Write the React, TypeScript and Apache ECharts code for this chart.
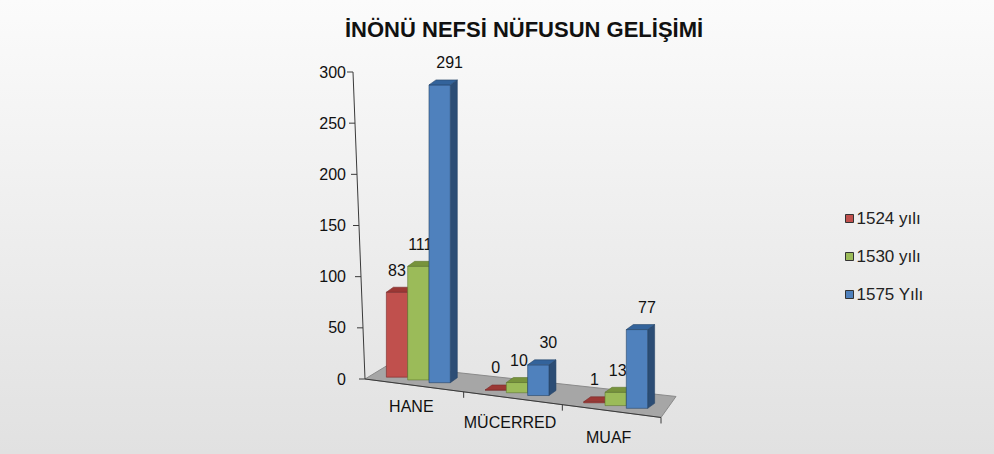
import React, { useEffect, useRef } from 'react';
import * as echarts from 'echarts';

const categories = ['HANE', 'MÜCERRED', 'MUAF'];
const seriesNames = ['1524 yılı', '1530 yılı', '1575 Yılı'];
const values1524 = [83, 0, 1];
const values1530 = [111, 10, 13];
const values1575 = [291, 30, 77];
const yMin = 0;
const yMax = 300;
const yInterval = 50;
const yTicks = [0, 50, 100, 150, 200, 250, 300];

const FONT = '"Liberation Sans", Arial, sans-serif';
const K = 0.13; // floor tilt

const palettes = [
  { front: '#C0504D', top: '#9B3835', side: '#85302E', edge: '#7A2C2A', lx: -2 },
  { front: '#9BBB59', top: '#77933C', side: '#667F33', edge: '#5F7830', lx: 0 },
  { front: '#4F81BD', top: '#33639B', side: '#2C4D75', edge: '#274468', lx: 8 },
];

const makeBarRender = (s: number) => (params: any, api: any) => {
  const i = api.value(0);
  const v = api.value(1);
  const cs = params.coordSys;
  const p0 = api.coord([i, 0]);
  const p1 = api.coord([i, v]);
  const cx = p0[0];
  const y0 = p0[1];
  const h = y0 - p1[1];
  const band = api.size([1, 0])[0];
  const barW = band * 0.216;
  const left = cx - 1.5 * barW + 4 + s * barW;
  const right = left + barW;
  const mid = left + barW / 2;
  const base = y0 + (mid - cs.x) * K - 6;
  const top = base - h;
  const dx = 7;
  const dy = 5;
  const c = palettes[s];
  const children: any[] = [
    {
      type: 'polygon',
      shape: { points: [[right, top], [right + dx, top - dy], [right + dx, base - dy], [right, base]] },
      style: { fill: c.side, stroke: c.edge, lineWidth: 0.6 },
    },
    {
      type: 'rect',
      shape: { x: left, y: top, width: barW, height: h },
      style: { fill: c.front, stroke: c.edge, lineWidth: 0.6 },
    },
    {
      type: 'polygon',
      shape: { points: [[left, top], [right, top], [right + dx, top - dy], [left + dx, top - dy]] },
      style: { fill: c.top, stroke: c.edge, lineWidth: 0.6 },
    },
    {
      type: 'text',
      style: {
        text: String(v),
        x: mid + 2 + c.lx,
        y: top - 22,
        align: 'center',
        verticalAlign: 'middle',
        fontSize: 16,
        fontFamily: FONT,
        fill: '#111',
      },
      z2: 10,
    },
  ];
  return { type: 'group', children };
};

const renderFloor = (params: any, api: any) => {
  const cs = params.coordSys;
  const x0 = cs.x;
  const x1 = cs.x + cs.width;
  const y0 = api.coord([0, 0])[1];
  const yR = y0 + cs.width * K;
  const band = api.size([1, 0])[0];
  const children: any[] = [];
  children.push({
    type: 'polygon',
    shape: { points: [[x0, y0], [x1, yR], [x1 + 15, yR - 21], [x0 + 23, y0 - 14]] },
    style: { fill: '#A6A6A6', stroke: '#8A8A8A', lineWidth: 1 },
  });
  children.push({
    type: 'line',
    shape: { x1: x0, y1: y0, x2: x1, y2: yR },
    style: { stroke: '#3A3A3A', lineWidth: 1 },
  });
  for (let j = 1; j <= categories.length; j++) {
    const tx = x0 + band * j;
    const ty = y0 + band * j * K;
    children.push({
      type: 'line',
      shape: { x1: tx, y1: ty, x2: tx, y2: ty + 6 },
      style: { stroke: '#3A3A3A', lineWidth: 1 },
    });
  }
  // tilted value axis line and ticks
  const yTopPx = api.coord([0, yMax])[1];
  const tilt = 12;
  children.push({
    type: 'line',
    shape: { x1: x0 - tilt, y1: yTopPx, x2: x0, y2: y0 },
    style: { stroke: '#3A3A3A', lineWidth: 1 },
  });
  yTicks.forEach((t) => {
    const ty = api.coord([0, t])[1];
    const tx = x0 - tilt * (t / yMax);
    children.push({
      type: 'line',
      shape: { x1: tx - 6, y1: ty, x2: tx, y2: ty },
      style: { stroke: '#3A3A3A', lineWidth: 1 },
    });
  });
  categories.forEach((name, j) => {
    const lx = x0 + band * (j + 0.5) - 3;
    const ly = y0 + (lx - x0) * 0.16 + 20;
    children.push({
      type: 'text',
      style: {
        text: name,
        x: lx,
        y: ly,
        align: 'center',
        verticalAlign: 'middle',
        fontSize: 16,
        fontFamily: FONT,
        fill: '#111',
      },
    });
  });
  return { type: 'group', children };
};

export default function App() {
  const ref = useRef<HTMLDivElement>(null);
  useEffect(() => {
    if (!ref.current) return;
    const chart = echarts.init(ref.current, null, { renderer: 'svg' });
    const seriesValues = [values1524, values1530, values1575];
    chart.setOption({
      animation: false,
      backgroundColor: {
        type: 'linear', x: 0, y: 0, x2: 0, y2: 1,
        colorStops: [
          { offset: 0, color: '#FBFBFB' },
          { offset: 1, color: '#E1E1E1' },
        ],
      },
      title: {
        text: 'İNÖNÜ NEFSİ NÜFUSUN GELİŞİMİ',
        left: 345,
        top: 18,
        padding: 0,
        textStyle: { fontFamily: FONT, fontSize: 22, fontWeight: 'bold', color: '#111' },
      },
      legend: {
        orient: 'vertical',
        left: 840,
        top: 205,
        itemWidth: 8,
        itemHeight: 8,
        itemGap: 21,
        data: seriesNames,
        icon: 'rect',
        itemStyle: { borderColor: '#333', borderWidth: 1 },
        textStyle: { fontFamily: FONT, fontSize: 17, color: '#222', lineHeight: 17, padding: [0, 0, 0, -2] },
      },
      grid: { left: 365, top: 72, width: 296, height: 307, containLabel: false },
      xAxis: {
        type: 'category',
        data: categories,
        axisLine: { show: false },
        axisTick: { show: false },
        axisLabel: { show: false },
        splitLine: { show: false },
      },
      yAxis: {
        type: 'value',
        min: yMin,
        max: yMax,
        interval: yInterval,
        axisLine: { show: false },
        axisTick: { show: false },
        splitLine: { show: false },
        axisLabel: { fontFamily: FONT, fontSize: 16, color: '#111', margin: 19 },
      },
      series: [
        {
          type: 'custom',
          name: 'floor',
          renderItem: renderFloor,
          data: [[0, 0]],
          encode: { x: 0, y: 1 },
          z: 1,
          silent: true,
        },
        ...seriesValues.map((vals, s) => ({
          type: 'custom',
          name: seriesNames[s],
          renderItem: makeBarRender(s),
          data: vals.map((v, i) => [i, v]),
          encode: { x: 0, y: 1 },
          itemStyle: { color: palettes[s].front },
          z: 2 + s,
        })),
      ],
    });
    return () => chart.dispose();
  }, []);
  return <div ref={ref} style={{ position: 'fixed', left: 0, top: 0, width: 994, height: 454 }} />;
}
